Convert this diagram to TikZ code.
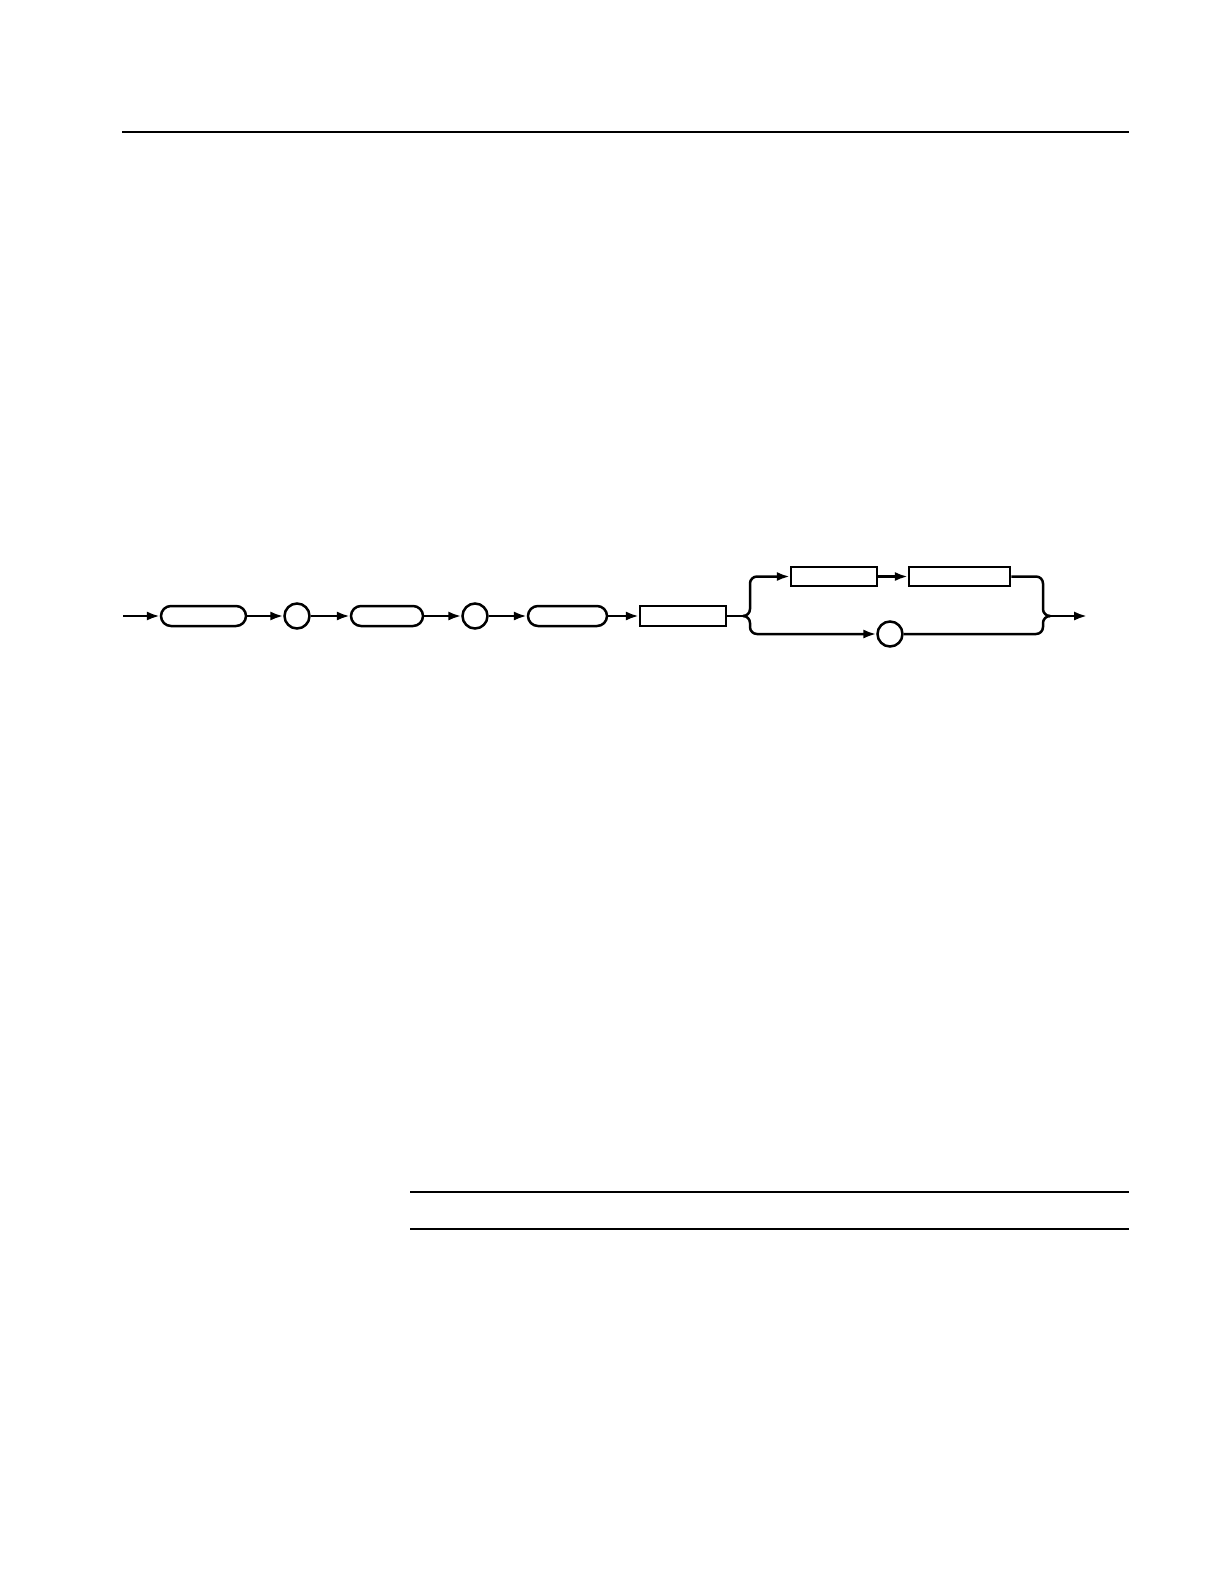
\documentclass[tikz,border=0pt]{standalone}
\usetikzlibrary{arrows.meta}
\begin{document}
\begin{tikzpicture}[x=0.5pt,y=-0.5pt,
  line width=1.25pt,
  conn/.style={-{Latex[length=6.5pt,width=4.6pt]}},
  term/.style={draw,rectangle,rounded corners=5pt,minimum height=10pt,inner sep=0pt},
  nonterm/.style={draw,rectangle,minimum height=9.5pt,inner sep=0pt},
  lit/.style={draw,circle,minimum size=12.5pt,inner sep=0pt},
  rule/.style={line width=0.9pt}]
\useasboundingbox (0,0) rectangle (1224,1584);
% page rules
\coordinate (t1) at (122,132); \coordinate (t2) at (1129,132);
\coordinate (b1) at (410,1192); \coordinate (b2) at (1129,1192);
\coordinate (b3) at (410,1229); \coordinate (b4) at (1129,1229);
\draw[rule] (t1) -- (t2);
\draw[rule] (b1) -- (b2);
\draw[rule] (b3) -- (b4);
% nodes
\coordinate (start) at (123,616);
\node[term,minimum width=42.5pt] (r1) at (203.5,616) {};
\node[lit] (c1) at (297,616) {};
\node[term,minimum width=36pt] (r2) at (387,616) {};
\node[lit] (c2) at (475,616) {};
\node[term,minimum width=39.5pt] (r3) at (567.5,616) {};
\node[nonterm,minimum width=43pt,minimum height=10pt] (n1) at (683,616) {};
\node[nonterm,minimum width=43pt] (u1) at (834,576.5) {};
\node[nonterm,minimum width=50.5pt] (u2) at (959.5,576.5) {};
\node[lit] (c3) at (890,634) {};
\coordinate (jl) at (743,616);
\coordinate (jr) at (1049,616);
\coordinate (exit) at (1087,616);
% connectors
\draw[conn] (start) -- (r1);
\draw[conn] (r1) -- (c1);
\draw[conn] (c1) -- (r2);
\draw[conn] (r2) -- (c2);
\draw[conn] (c2) -- (r3);
\draw[conn] (r3) -- (n1);
\draw (n1) -- (jl);
\draw[conn,rounded corners=3.5pt] (jl) -- (750,616) -- (750,576.5) -- (u1.west);
\draw[conn,rounded corners=3.5pt] (jl) -- (750,616) -- (750,634) -- (c3.west);
\draw[conn] (u1) -- (u2);
\draw[rounded corners=3.5pt] (u2.east) -- (1043,576.5) -- (1043,616) -- (jr);
\draw[rounded corners=3.5pt] (c3.east) -- (1043,634) -- (1043,616) -- (jr);
\draw[conn] (jr) -- (exit);
\end{tikzpicture}
\end{document}
